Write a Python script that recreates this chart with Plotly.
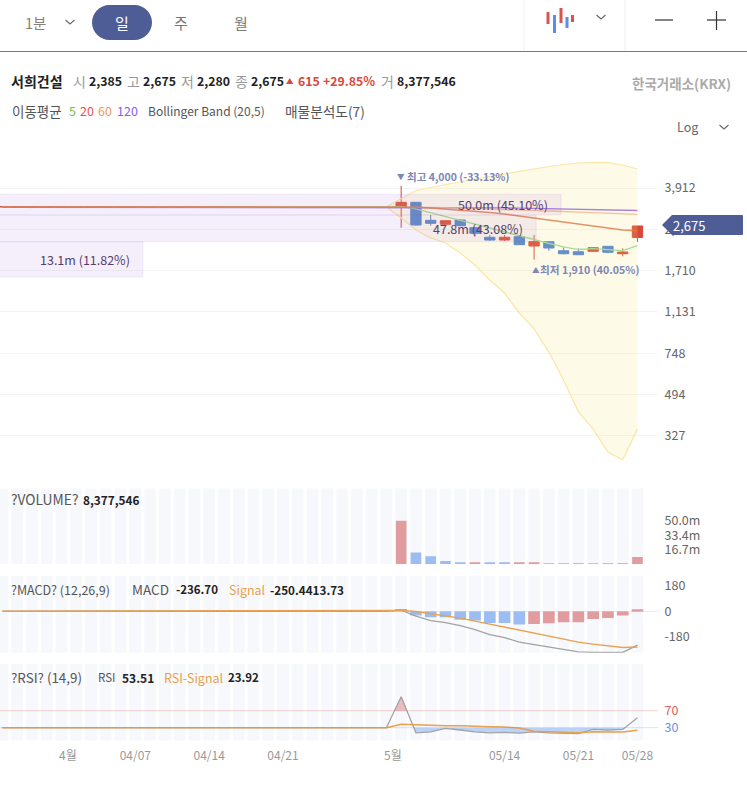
import math
import plotly.graph_objects as go

W, H = 747, 789
FONT = "Noto Sans CJK KR"

# Trading days shown on the time axis
dates = [
    "03/25", "03/26", "03/27", "03/30", "03/31",
    "04/01", "04/02", "04/03", "04/06", "04/07", "04/08", "04/09", "04/10",
    "04/13", "04/14", "04/15", "04/16", "04/17", "04/20", "04/21", "04/22",
    "04/23", "04/24", "04/27", "04/28", "04/29", "04/30",
    "05/04", "05/06", "05/07", "05/08", "05/11", "05/12", "05/13", "05/14",
    "05/15", "05/18", "05/19", "05/20", "05/21", "05/22", "05/26", "05/27", "05/28",
]
date_ticks = ["04/07", "04/14", "04/21", "05/14", "05/21", "05/28"]
month_ticks = [("04/01", "4월"), ("05/04", "5월")]

# Prices before trading resumed all sit at one level
halted = [3244] * 27
opens = halted + [3244, 3390, 2831, 2720, 2840, 2629, 2388, 2324, 2402, 2189, 2285, 2088, 2067, 2076, 2182, 2026, 2385]
highs = halted + [4000, 3390, 2985, 2830, 2860, 2640, 2444, 2444, 2444, 2444, 2290, 2161, 2139, 2160, 2182, 2139, 2675]
lows = halted + [2629, 2682, 2682, 2682, 2670, 2420, 2301, 2301, 2211, 1910, 2088, 2014, 2001, 2070, 2034, 1974, 2280]
closes = halted + [3390, 2701, 2747, 2820, 2682, 2486, 2324, 2388, 2218, 2285, 2145, 2026, 2006, 2152, 2055, 2060, 2675]

ma5 = halted + [3244, 3171, 3045, 2926, 2826, 2728, 2621, 2531, 2420, 2324, 2245, 2168, 2113, 2130, 2113, 2088, 2195]
ma20 = halted + [3244, 3228, 3202, 3171, 3138, 3107, 3061, 3015, 2956, 2897, 2840, 2783, 2714, 2661, 2608, 2570, 2552]
ma60 = halted + [3244, 3234, 3224, 3215, 3202, 3190, 3177, 3162, 3146, 3128, 3110, 3092, 3075, 3057, 3043, 3028, 3007]
ma120 = [3226] * 27 + [3226, 3226, 3224, 3222, 3220, 3216, 3212, 3205, 3198, 3190, 3182, 3173, 3164, 3155, 3145, 3135, 3122]

# Bollinger band, from the last flat session onward
boll_dates = dates[26:]
boll_upper = [3244, 3504, 3815, 3932, 4052, 4154, 4280, 4390, 4501, 4638, 4756, 4852, 4950, 5024, 5040, 5040, 4925, 4731]
boll_lower = [3234, 2897, 2570, 2371, 2256, 2041, 1809, 1558, 1367, 1119, 954, 757, 572, 416, 350, 278, 257, 350]

# Volume profile buckets
profile_values = [50.0, 47.8, 13.1]
profile_labels = ["50.0m (45.10%)", "47.8m (43.08%)", "13.1m (11.82%)"]
profile_top = [3673, 2985, 2285]
profile_bottom = [2985, 2285, 1606]

price_ticks = [3912, 2586, 1710, 1131, 748, 494, 327]

# Volume, in millions
volume = [0] * 27 + [50.0, 13.4, 9.2, 3.8, 1.9, 1.5, 1.6, 1.6, 1.5, 2.3, 0.6, 0.6, 0.8, 0.7, 0.8, 0.7, 8.377546]
volume_up = [True, False, False, False, False, True, False, False, True, True, False, False, True, False, True, True, True]

macd = [0] * 27 + [8, -34, -65, -79, -100, -128, -163, -184, -216, -233, -254, -272, -284, -288, -288, -288, -236.70]
signal = [0] * 27 + [5, -2, -16, -30, -48, -69, -90, -111, -135, -156, -177, -198, -216, -230, -244, -253, -250.44]
macd_hist = [0] * 27 + [16, -30, -42, -42, -60, -65, -82, -82, -93, -89, -84, -77, -77, -54, -47, -30, 13.73]
macd_hist_up = [True] + [False] * 8 + [True] * 8

rsi = [30] * 27 + [103, 18, 20, 28.5, 24.6, 20, 18, 19, 17, 20, 18, 17, 16, 26, 24.6, 26, 53.51]
rsi_signal = [30] * 27 + [38, 36.4, 35.6, 34.7, 34.7, 33, 32.4, 31.6, 29.3, 21.5, 20.6, 20, 18.2, 20.6, 20.6, 20, 23.92]

RED = "#d9483b"
BLUE = "#4a80d8"
NAVY = "#4f5d96"
BAND = "#f7f8fc"
VOL_RED = "#e09c9e"
VOL_BLUE = "#9bbdf2"
ORANGE = "#e9a04f"
GREY_LINE = "#a3a3a3"


def dom(top, bottom):
    """Axis domain for a vertical span given in page pixels."""
    return [1 - bottom / H, 1 - top / H]


def px(x):
    return x / W


def py(y):
    return 1 - y / H


def beyond_level(values, level, sign):
    """Outline of the parts of a series past a level, for a filled area against that level."""
    xs, ys = [], []
    for i in range(len(values) - 1):
        a, b = values[i], values[i + 1]
        a_in, b_in = sign * (a - level) > 0, sign * (b - level) > 0
        if a_in != b_in:
            crossing = i + (level - a) / (b - a)
            xs.append(crossing)
            ys.append(level)
            if a_in:
                xs.append(None)
                ys.append(None)
        if b_in:
            xs.append(i + 1)
            ys.append(b)
    return xs, ys


fig = go.Figure()

# --- price panel ---
fig.add_trace(go.Scatter(x=boll_dates, y=boll_upper, mode="lines", yaxis="y",
                         line=dict(color="#fbe6a6", width=1.2), hoverinfo="skip"))
fig.add_trace(go.Scatter(x=boll_dates, y=boll_lower, mode="lines", yaxis="y", fill="tonexty",
                         fillcolor="rgba(250,222,110,0.16)",
                         line=dict(color="#fbe6a6", width=1.2), hoverinfo="skip"))
fig.add_trace(go.Candlestick(
    x=dates, open=opens, high=highs, low=lows, close=closes, yaxis="y",
    increasing=dict(line=dict(color=RED, width=1), fillcolor=RED),
    decreasing=dict(line=dict(color=BLUE, width=1), fillcolor=BLUE),
    whiskerwidth=0, hoverinfo="skip"))
for series, colour, width in [(ma5, "#a9de8e", 1.3), (ma120, "rgba(150,100,215,0.8)", 1.4),
                              (ma60, "rgba(240,185,135,0.85)", 1.3), (ma20, "rgba(226,122,70,0.82)", 1.6)]:
    fig.add_trace(go.Scatter(x=dates, y=series, mode="lines", yaxis="y",
                             line=dict(color=colour, width=width), hoverinfo="skip"))

# Volume profile runs along its own value axis, laid over the price scale
for value, top, bottom in zip(profile_values, profile_top, profile_bottom):
    fig.add_trace(go.Scatter(x=[0, value, value, 0, 0], y=[top, top, bottom, bottom, top],
                             xaxis="x2", yaxis="y", mode="lines", fill="toself",
                             fillcolor="rgba(135,70,205,0.085)",
                             line=dict(color="rgba(135,70,205,0.06)", width=1.5), hoverinfo="skip"))

# --- volume panel ---
fig.add_trace(go.Bar(x=dates, y=[87.2] * len(dates), yaxis="y3", width=0.79,
                     marker=dict(color=BAND, line=dict(width=0)), hoverinfo="skip"))
fig.add_trace(go.Bar(x=dates[27:], y=volume[27:], yaxis="y3", width=0.72,
                     marker=dict(color=[VOL_RED if u else VOL_BLUE for u in volume_up], line=dict(width=0)),
                     hoverinfo="skip"))

# --- MACD panel ---
fig.add_trace(go.Bar(x=dates, y=[539] * len(dates), base=-290, yaxis="y4", width=0.79,
                     marker=dict(color=BAND, line=dict(width=0)), hoverinfo="skip"))
fig.add_trace(go.Bar(x=dates[27:], y=macd_hist[27:], yaxis="y4", width=0.79,
                     marker=dict(color=[VOL_RED if u else VOL_BLUE for u in macd_hist_up], line=dict(width=0)),
                     hoverinfo="skip"))
fig.add_trace(go.Scatter(x=dates, y=macd, mode="lines", yaxis="y4",
                         line=dict(color=GREY_LINE, width=1.3), hoverinfo="skip"))
fig.add_trace(go.Scatter(x=dates, y=signal, mode="lines", yaxis="y4",
                         line=dict(color=ORANGE, width=1.5), hoverinfo="skip"))

# --- RSI panel ---
fig.add_trace(go.Bar(x=dates, y=[179.9] * len(dates), yaxis="y5", width=0.79,
                     marker=dict(color=BAND, line=dict(width=0)), hoverinfo="skip"))
# Areas and lines share a session-index axis laid over the bands
sessions = list(range(len(dates)))
for level, sign, colour in [(70, 1, "#e9bcc0"), (30, -1, "#bcd3f7")]:
    area_x, area_y = beyond_level(rsi, level, sign)
    fig.add_trace(go.Scatter(x=area_x, y=area_y, xaxis="x3", yaxis="y5", mode="lines", fill="toself",
                             fillcolor=colour, line=dict(width=0), hoverinfo="skip"))
fig.add_trace(go.Scatter(x=sessions, y=rsi, xaxis="x3", yaxis="y5", mode="lines",
                         line=dict(color=GREY_LINE, width=1.3), hoverinfo="skip"))
fig.add_trace(go.Scatter(x=sessions, y=rsi_signal, xaxis="x3", yaxis="y5", mode="lines",
                         line=dict(color=ORANGE, width=1.5), hoverinfo="skip"))


# Text helpers
annotations = []


def text(x, y, s, size=12, color="#555", bold=False, anchor="left"):
    annotations.append(dict(
        x=px(x), y=py(y), xref="paper", yref="paper", xanchor=anchor, yanchor="middle",
        text=f"<b>{s}</b>" if bold else s, showarrow=False,
        font=dict(family=FONT, size=size, color=color), borderpad=0, borderwidth=0))


# Toolbar
text(35, 23, "1분", 14.5, "#8a7f74", anchor="center")
text(122, 23, "일", 15, "#ffffff", anchor="center")
text(181, 23, "주", 15, "#777", anchor="center")
text(241, 23, "월", 15, "#777", anchor="center")

# Quote line
text(11, 81, "서희건설", 14, "#222", True)
for x, label in [(73, "시"), (127, "고"), (181, "저"), (235, "종"), (381, "거")]:
    text(x, 81, label, 14, "#999")
for x, value in [(89, "2,385"), (143, "2,675"), (197, "2,280"), (251, "2,675"), (397, "8,377,546")]:
    text(x, 81, value, 12.3, "#222", True)
text(286, 80, "▲", 7.5, "#d9483b")
text(298, 81, "615", 12.3, "#d9483b", True)
text(323, 81, "+29.85%", 12.3, "#d9483b", True)
text(731, 83, "한국거래소(KRX)", 13.5, "#aaaaaa", True, anchor="right")

# Indicator line
text(12, 111, "이동평균", 13.5, "#555")
text(69, 111, "5", 12.5, "#6fbf4a")
text(80, 111, "20", 12.5, "#e4504a")
text(98, 111, "60", 12.5, "#e89a5c")
text(117, 111, "120", 12.5, "#8a5cf0")
text(148, 111, "Bollinger Band (20,5)", 12, "#555")
text(285, 111, "매물분석도(7)", 13.7, "#555")
text(698, 127, "Log", 12.5, "#666", anchor="right")

# Panel captions
text(11, 499, "?VOLUME?", 13.8, "#555")
text(83, 499, "8,377,546", 11.8, "#222", True)
text(11, 589, "?MACD? (12,26,9)", 12.5, "#555")
text(132, 589, "MACD", 13.5, "#555")
text(176, 589, "-236.70", 11.5, "#222", True)
text(229, 589, "Signal", 12.5, ORANGE)
text(270, 589, "-250.4413.73", 11.7, "#222", True)
text(11, 677, "?RSI? (14,9)", 13.4, "#555")
text(98, 677, "RSI", 11.5, "#555")
text(122, 677, "53.51", 12, "#222", True)
text(164, 677, "RSI-Signal", 12.5, ORANGE)
text(228, 677, "23.92", 11.5, "#222", True)

# Month labels sit slightly left of their session
for day, label in month_ticks:
    annotations.append(dict(x=day, y=py(754), xref="x", yref="paper", yanchor="middle", xanchor="center",
                            xshift=-8, text=label, showarrow=False,
                            font=dict(family=FONT, size=12, color="#999")))

# Extremes of the visible range
HIGH_LOW = "#7b87b5"
annotations.append(dict(x="05/04", y=math.log10(max(highs)), xref="x", yref="y", xanchor="left", yanchor="middle",
                        xshift=-6.5, yshift=9, text="<b>▼</b>", showarrow=False,
                        font=dict(family=FONT, size=7.5, color=HIGH_LOW)))
annotations.append(dict(x="05/04", y=math.log10(max(highs)), xref="x", yref="y", xanchor="left", yanchor="middle",
                        xshift=3.5, yshift=9, text="<b>최고 4,000 (-33.13%)</b>", showarrow=False,
                        font=dict(family=FONT, size=10.5, color=HIGH_LOW)))
annotations.append(dict(x="05/18", y=math.log10(min(lows)), xref="x", yref="y", xanchor="left", yanchor="middle",
                        xshift=-4.5, yshift=-10, text="<b>▲</b>", showarrow=False,
                        font=dict(family=FONT, size=7.5, color=HIGH_LOW)))
annotations.append(dict(x="05/18", y=math.log10(min(lows)), xref="x", yref="y", xanchor="left", yanchor="middle",
                        xshift=3.5, yshift=-10, text="<b>최저 1,910 (40.05%)</b>", showarrow=False,
                        font=dict(family=FONT, size=10.6, color=HIGH_LOW)))

# Profile captions, right aligned inside each bucket
for value, label, top, bottom in zip(profile_values, profile_labels, profile_top, profile_bottom):
    mid = (math.log10(top) + math.log10(bottom)) / 2
    annotations.append(dict(x=value, y=mid, xref="x2", yref="y", xanchor="right", yanchor="middle",
                            xshift=-11.5, text=label, showarrow=False,
                            font=dict(family=FONT, size=12.5, color="#55406e")))

# Last-price flag text
text(689, 225.5, "2,675", 13, "#ffffff", anchor="center")


# Shapes in page pixels
shapes = []


def seg(x0, y0, x1, y1, color, width=1):
    shapes.append(dict(type="line", xref="paper", yref="paper", x0=px(x0), y0=py(y0), x1=px(x1), y1=py(y1),
                       line=dict(color=color, width=width)))


def path(points, fill=None, color=None, width=1):
    """Path from a list of (command, x, y, ...) tuples in page pixels."""
    parts = []
    for item in points:
        cmd, *vals = item
        coords = " ".join(f"{px(vals[i]):.5f},{py(vals[i + 1]):.5f}" for i in range(0, len(vals), 2))
        parts.append(cmd + coords)
    shapes.append(dict(type="path", xref="paper", yref="paper", path=" ".join(parts) + (" Z" if fill else ""),
                       fillcolor=fill, line=dict(color=color or "rgba(0,0,0,0)", width=width)))


def chevron(x, y, half=4.5, drop=4, color="#666"):
    path([("M", x - half, y - drop / 2), ("L", x, y + drop / 2), ("L", x + half, y - drop / 2)], color=color, width=1.1)


# Selected-period pill: straight top and bottom, round ends
r = 17.5
k = r * 0.5523
l, t, rt, b = 92, 5, 152, 40
path([("M", l + r, t), ("L", rt - r, t),
      ("C", rt - r + k, t, rt, t + r - k, rt, t + r),
      ("C", rt, b - r + k, rt - r + k, b, rt - r, b),
      ("L", l + r, b),
      ("C", l + r - k, b, l, b - r + k, l, b - r),
      ("C", l, t + r - k, l + r - k, t, l + r, t)], fill=NAVY)
chevron(70, 22)
chevron(601, 17)
chevron(724, 127)

seg(0, 51.5, W, 51.5, "#7a7a7a", 1.2)
seg(524, 0, 524, 51, "#f0f0f0")
seg(625, 0, 625, 51, "#f0f0f0")
seg(655, 20, 673, 20, "#333", 1.2)
seg(707, 20, 726, 20, "#333", 1.2)
seg(716.5, 11, 716.5, 30, "#333", 1.2)

# Chart-type icon
for x, top, bottom, colour in [(548, 12, 24, "#d9534f"), (554.5, 15, 33, "#5b8fe6"), (561, 8, 23, "#d9534f"),
                               (567, 17, 28, "#5b8fe6"), (572.5, 15, 22, "#d9534f")]:
    seg(x, top, x, bottom, colour, 3)

# Last-price flag
path([("M", 662, 225), ("L", 672, 215), ("L", 741, 215), ("C", 743, 215, 743, 215, 743, 217),
      ("L", 743, 233), ("C", 743, 235, 743, 235, 741, 235), ("L", 672, 235)], fill=NAVY)

# RSI guide levels
for level, colour in [(70, "rgba(228,110,110,0.25)"), (30, "rgba(90,140,240,0.20)")]:
    shapes.append(dict(type="line", xref="paper", yref="y5", x0=0, x1=px(658), y0=level, y1=level,
                       line=dict(color=colour, width=1.2)))

# x axis: position 0 is the first session, spacing is one session per step
x_range = [-0.1625, 44.39]
x_domain = [0, px(658)]

# Price axis scale: 230 px per decade with 3,912 at y=188
price_top = math.log10(3912) + (188 - 135) / 230
price_bottom = math.log10(3912) - (478 - 188) / 230

tick_font = dict(family=FONT, size=12.5, color="#666")


def right_axis(**kw):
    base = dict(anchor="x", side="right", showgrid=False, zeroline=False, showline=False,
                ticks="outside", ticklen=3, tickcolor="rgba(0,0,0,0)", tickfont=tick_font, fixedrange=True)
    base.update(kw)
    return base


fig.update_layout(
    width=W, height=H, autosize=False, margin=dict(l=0, r=0, t=0, b=0, pad=0),
    paper_bgcolor="white", plot_bgcolor="white", showlegend=False, barmode="overlay",
    boxgap=0.3, boxgroupgap=0, hovermode=False, font=dict(family=FONT),
    xaxis=dict(domain=x_domain, anchor="y5", type="category", categoryorder="array", categoryarray=dates,
               range=x_range, rangeslider=dict(visible=False), showgrid=False, zeroline=False, showline=False,
               tickmode="array", tickvals=date_ticks, ticktext=date_ticks, tickangle=0,
               ticks="outside", ticklen=4, tickcolor="rgba(0,0,0,0)",
               tickfont=dict(family=FONT, size=12, color="#999"), fixedrange=True),
    xaxis2=dict(domain=x_domain, overlaying="x", anchor="y", range=[0.476, 58.55], visible=False, fixedrange=True),
    xaxis3=dict(domain=x_domain, overlaying="x", anchor="y5", range=x_range, visible=False, fixedrange=True),
    yaxis=right_axis(domain=dom(135, 478), type="log", range=[price_bottom, price_top],
                     tickmode="array", tickvals=price_ticks, ticktext=[f"{t:,}" for t in price_ticks],
                     showgrid=True, gridcolor="#f4f4f4", gridwidth=1),
    yaxis3=right_axis(domain=dom(488.3, 564.3), range=[0, 87.2], tickmode="array",
                      tickvals=[50.0, 33.4, 16.7], ticktext=["50.0m", "33.4m", "16.7m"]),
    yaxis4=right_axis(domain=dom(575.7, 652.7), range=[-290, 249], tickmode="array",
                      tickvals=[180, 0, -180], ticktext=["180", "0", "-180"],
                      zeroline=True, zerolinecolor="#ececec", zerolinewidth=1),
    yaxis5=right_axis(domain=dom(664, 740.7), range=[-0.6, 179.9], tickmode="array", tickvals=[70, 30],
                      ticktext=['<span style="color:#e0605a">70</span>', '<span style="color:#6c90e8">30</span>']),
    annotations=annotations, shapes=shapes,
)

fig.write_html("out.html", config=dict(displayModeBar=False))
